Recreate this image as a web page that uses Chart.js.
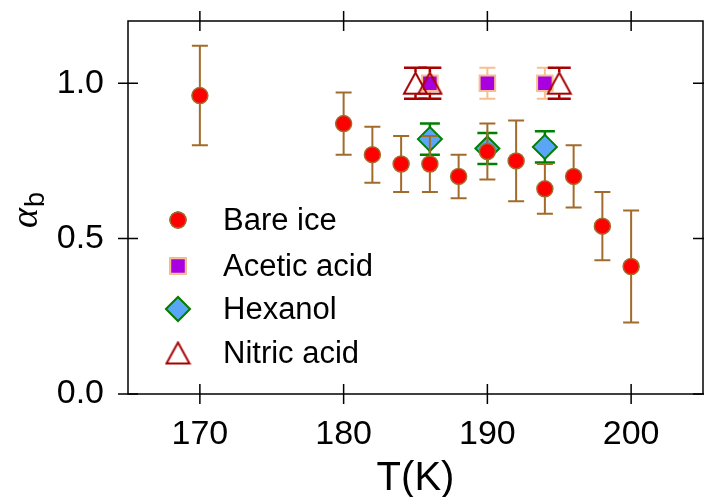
<!DOCTYPE html>
<html lang="en">
<head>
    <meta charset="UTF-8">
    <title>Uptake vs temperature</title>
    <style>
        html, body {
            margin: 0;
            padding: 0;
            background: #ffffff;
            overflow: hidden;
        }
        #wrap {
            width: 704px;
            height: 497px;
            position: relative;
        }
        #alphaChart {
            display: block;
        }
    </style>
    <script src="https://cdn.jsdelivr.net/npm/chart.js"></script>
</head>
<body>
    <div id="wrap">
        <canvas id="alphaChart"></canvas>
    </div>

    <script>
        // values
        const bareT = [170, 180, 182, 184, 186, 188, 190, 192, 194, 196, 198, 200];
        const bareVals = [0.96, 0.87, 0.77, 0.74, 0.74, 0.70, 0.78, 0.75, 0.66, 0.70, 0.54, 0.41];
        const bareErr = [0.16, 0.10, 0.09, 0.09, 0.09, 0.07, 0.09, 0.13, 0.08, 0.10, 0.11, 0.18];

        const aceticT = [186, 190, 194];
        const aceticVals = [1.0, 1.0, 1.0];
        const aceticErr = [0.05, 0.05, 0.05];

        const hexanolT = [186, 190, 194];
        const hexanolVals = [0.82, 0.79, 0.795];
        const hexanolErr = [0.05, 0.05, 0.05];

        const nitricT = [185, 186, 195];
        const nitricVals = [1.0, 1.0, 1.0];
        const nitricErr = [0.05, 0.05, 0.05];

        const xTicks = [170, 180, 190, 200];
        const yTicks = [0.0, 0.5, 1.0];

        const FONT = "'Liberation Sans', Arial, sans-serif";

        function pts(xs, ys) {
            return xs.map((x, i) => ({ x: x, y: ys[i] }));
        }

        // open triangle, centred on its bounding box
        function makeTriangle(w, h, color, lw) {
            const c = document.createElement('canvas');
            c.width = w + lw * 2;
            c.height = h + lw * 2;
            const g = c.getContext('2d');
            g.strokeStyle = color;
            g.lineWidth = lw;
            g.lineJoin = 'miter';
            g.beginPath();
            g.moveTo(c.width / 2, lw);
            g.lineTo(c.width - lw, c.height - lw);
            g.lineTo(lw, c.height - lw);
            g.closePath();
            g.stroke();
            return c;
        }
        const triangle = makeTriangle(23, 21, '#a80000', 2);

        // error bars drawn just before each dataset so layering follows the markers
        const errorBars = {
            id: 'errorBars',
            beforeDatasetDraw(chart, args) {
                const ds = chart.data.datasets[args.index];
                if (!ds.errors) return;
                const ys = chart.scales.y;
                const ctx = chart.ctx;
                const cw = ds.capWidth / 2;
                const gap = ds.errorGap || 0;
                ctx.save();
                ctx.strokeStyle = ds.errorColor;
                ctx.lineWidth = ds.errorWidth;
                args.meta.data.forEach((pt, i) => {
                    const v = ds.data[i].y;
                    const e = ds.errors[i];
                    const top = ys.getPixelForValue(v + e);
                    const bot = ys.getPixelForValue(v - e);
                    ctx.beginPath();
                    ctx.moveTo(pt.x, top);
                    ctx.lineTo(pt.x, pt.y - gap);
                    ctx.moveTo(pt.x, pt.y + gap);
                    ctx.lineTo(pt.x, bot);
                    ctx.moveTo(pt.x - cw, top);
                    ctx.lineTo(pt.x + cw, top);
                    ctx.moveTo(pt.x - cw, bot);
                    ctx.lineTo(pt.x + cw, bot);
                    ctx.stroke();
                });
                ctx.restore();
            }
        };

        // box frame with ticks crossing all four sides
        const frame = {
            id: 'frame',
            beforeDatasetsDraw(chart) {
                const { ctx, chartArea: a, scales } = chart;
                const t = 10;
                ctx.save();
                ctx.strokeStyle = '#000';
                ctx.lineWidth = 1.5;
                ctx.strokeRect(a.left, a.top, a.right - a.left, a.bottom - a.top);
                ctx.beginPath();
                scales.x.ticks.forEach(tk => {
                    const x = scales.x.getPixelForValue(tk.value);
                    ctx.moveTo(x, a.bottom - t); ctx.lineTo(x, a.bottom + t);
                    ctx.moveTo(x, a.top - t); ctx.lineTo(x, a.top + t);
                });
                scales.y.ticks.forEach(tk => {
                    const y = scales.y.getPixelForValue(tk.value);
                    ctx.moveTo(a.left - t, y); ctx.lineTo(a.left + t, y);
                    ctx.moveTo(a.right - t, y); ctx.lineTo(a.right + t, y);
                });
                ctx.stroke();
                ctx.restore();
            }
        };

        // axis titles and the in-plot legend
        const labels = {
            id: 'labels',
            afterDraw(chart) {
                const { ctx, chartArea: a } = chart;
                ctx.save();
                ctx.fillStyle = '#000';

                ctx.font = '40px ' + FONT;
                ctx.textAlign = 'center';
                ctx.textBaseline = 'alphabetic';
                ctx.fillText('T(K)', (a.left + a.right) / 2, 490);

                ctx.translate(37, 228);
                ctx.rotate(-Math.PI / 2);
                ctx.textAlign = 'left';
                ctx.font = "italic 38px 'Liberation Serif', serif";
                ctx.fillText('α', 0, 0);
                const aw = ctx.measureText('α').width;
                ctx.font = '27px ' + FONT;
                ctx.fillText('b', aw + 1, 7);
                ctx.restore();

                ctx.save();
                const lx = a.left + 50;
                const tx = a.left + 95;
                const rows = [220, 266, 309, 353];
                ctx.font = '31px ' + FONT;
                ctx.textAlign = 'left';
                ctx.textBaseline = 'alphabetic';
                chart.data.datasets.forEach((ds, i) => {
                    const y = a.top + rows[i] - 21;
                    Chart.helpers.drawPoint(ctx, {
                        pointStyle: ds.pointStyle,
                        radius: ds.pointRadius,
                        borderWidth: ds.pointBorderWidth,
                        rotation: 0
                    }, lx, y);
                    ctx.fillStyle = ds.pointBackgroundColor;
                    ctx.strokeStyle = ds.pointBorderColor;
                    ctx.lineWidth = ds.pointBorderWidth;
                    if (ds.pointStyle !== triangle) {
                        ctx.fill();
                        ctx.stroke();
                    }
                    ctx.fillStyle = '#000';
                    ctx.fillText(ds.label, tx, y + 10);
                });
                ctx.restore();
            }
        };

        function noEdgePadding(s) {
            s.paddingTop = 0;
            s.paddingBottom = 0;
            s.paddingLeft = 0;
            s.paddingRight = 0;
        }

        const ctx = document.getElementById('alphaChart').getContext('2d');
        const alphaChart = new Chart(ctx, {
            type: 'scatter',
            data: {
                datasets: [
                    {
                        label: 'Bare ice',
                        data: pts(bareT, bareVals),
                        errors: bareErr,
                        errorColor: '#a36b2b',
                        errorWidth: 2,
                        capWidth: 16,
                        pointStyle: 'circle',
                        pointRadius: 8,
                        pointBorderWidth: 1.5,
                        pointBackgroundColor: '#ff0000',
                        pointBorderColor: '#a36b2b',
                        order: 0
                    },
                    {
                        label: 'Acetic acid',
                        data: pts(aceticT, aceticVals),
                        errors: aceticErr,
                        errorColor: '#f8c08e',
                        errorWidth: 2,
                        capWidth: 16,
                        pointStyle: 'rect',
                        pointRadius: 11,
                        pointBorderWidth: 2,
                        pointBackgroundColor: '#a800e0',
                        pointBorderColor: '#f8c08e',
                        order: 2
                    },
                    {
                        label: 'Hexanol',
                        data: pts(hexanolT, hexanolVals),
                        errors: hexanolErr,
                        errorColor: '#008000',
                        errorWidth: 2.5,
                        capWidth: 20,
                        pointStyle: 'rectRot',
                        pointRadius: 12,
                        pointBorderWidth: 2,
                        pointBackgroundColor: '#5aa5f5',
                        pointBorderColor: '#008000',
                        order: 3
                    },
                    {
                        label: 'Nitric acid',
                        data: pts(nitricT, nitricVals),
                        errors: nitricErr,
                        errorColor: '#a80000',
                        errorWidth: 2.5,
                        capWidth: 23,
                        errorGap: 11,
                        pointStyle: triangle,
                        pointRadius: 12,
                        pointBorderWidth: 2,
                        pointBackgroundColor: 'rgba(0,0,0,0)',
                        pointBorderColor: '#a80000',
                        order: 1
                    }
                ]
            },
            options: {
                responsive: true,
                maintainAspectRatio: false,
                animation: false,
                events: [],
                layout: {
                    autoPadding: false,
                    padding: { top: 21, right: 1, left: 0, bottom: 0 }
                },
                plugins: {
                    legend: { display: false },
                    tooltip: { enabled: false }
                },
                scales: {
                    x: {
                        type: 'linear',
                        position: 'bottom',
                        min: 165,
                        max: 205,
                        grid: { display: false },
                        border: { display: false },
                        afterBuildTicks: (s) => { s.ticks = xTicks.map(v => ({ value: v })); },
                        ticks: {
                            maxRotation: 0,
                            autoSkip: false,
                            padding: 12,
                            color: '#000',
                            font: { family: FONT, size: 34 }
                        },
                        afterFit: (s) => { s.height = 103; noEdgePadding(s); }
                    },
                    y: {
                        type: 'linear',
                        min: 0,
                        max: 1.2,
                        grid: { display: false },
                        border: { display: false },
                        afterBuildTicks: (s) => { s.ticks = yTicks.map(v => ({ value: v })); },
                        ticks: {
                            autoSkip: false,
                            padding: 16,
                            color: '#000',
                            font: { family: FONT, size: 34 },
                            callback: (v) => v.toFixed(1)
                        },
                        afterFit: (s) => { s.width = 128; noEdgePadding(s); }
                    }
                }
            },
            plugins: [frame, errorBars, labels]
        });
    </script>
</body>
</html>
